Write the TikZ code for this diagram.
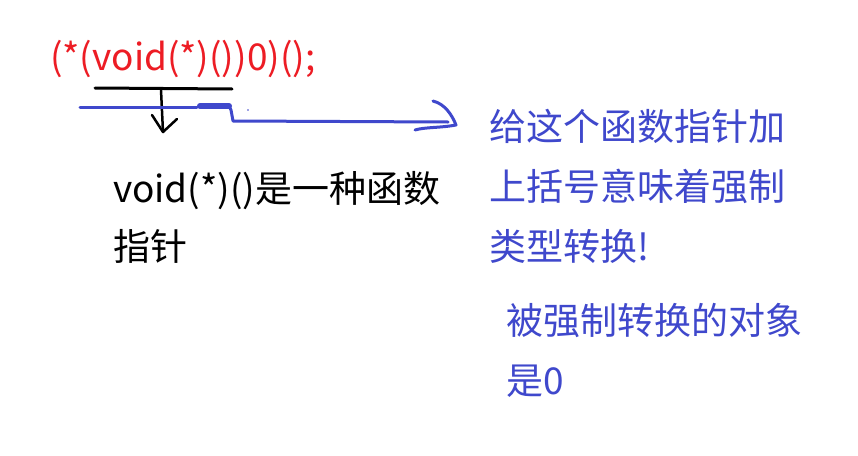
\documentclass[tikz,border=0pt]{standalone}
\usepackage{fontspec}
\setmainfont{Noto Sans CJK SC}
\definecolor{penred}{RGB}{237,28,36}
\definecolor{penblue}{RGB}{63,72,204}
\begin{document}
\begin{tikzpicture}[x=1pt,y=-1pt,
  txt/.style={anchor=base west,inner sep=0pt,align=left},
  big/.style={font=\fontsize{37}{60}\selectfont},
  stroke/.style={line width=3pt,line cap=round,line join=round}]
\useasboundingbox[fill=white] (0,0) rectangle (858,455);
% texts (anchor = baseline of the last line)
\node[txt,text=penred,font=\fontsize{37}{40}\selectfont] (code) at (50,70) {(*(void(*)())0)();};
\node[txt,big] (fp) at (113,260) {void(*)()是一种函数\\[-2pt]指针};
\node[txt,big,text=penblue] (cast) at (489,260) {给这个函数指针加\\上括号意味着强制\\类型转换!};
\node[txt,big,text=penblue] (obj) at (506,394) {被强制转换的对象\\是0};
% black underline and arrow
\coordinate (bl) at (95,88);
\coordinate (br) at (232,89);
\coordinate (bt) at (161,90);
\coordinate (bb) at (163,132);
\draw[stroke,black] (bl) -- (br);
\draw[stroke,black,line width=2.5pt] (bt) -- (bb);
\draw[stroke,black,line width=2.5pt] (152,115) -- (bb) -- (177,119);
% blue underline with arrow
\coordinate (ul) at (80,107);
\coordinate (um) at (197,107);
\coordinate (ur) at (229,106);
\coordinate (c1) at (233,121);
\coordinate (tip) at (456,125);
\draw[stroke,penblue] (ul) -- (um);
\draw[line width=6pt,line cap=round,penblue] (200,106) -- (ur);
\draw[stroke,penblue] (ur) -- (231,110) -- (c1) -- (448,122);
\draw[stroke,penblue] (433,101) .. controls (445,104) and (452,115) .. (tip) .. controls (440,128) and (425,127) .. (415,130);
\fill[penblue] (248,110) circle (0.8);
\end{tikzpicture}
\end{document}
